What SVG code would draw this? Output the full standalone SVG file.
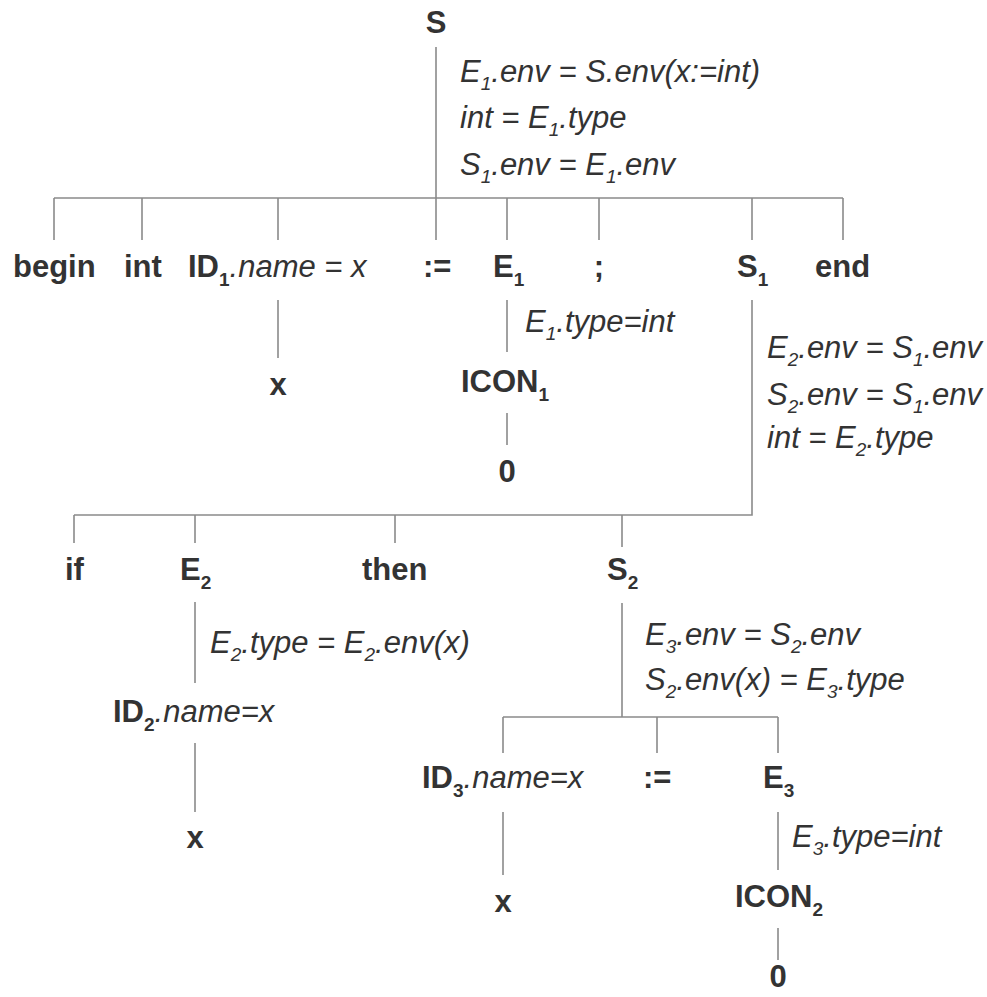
<svg xmlns="http://www.w3.org/2000/svg" width="987" height="997" viewBox="0 0 987 997">
<style>
.b{font-family:"Liberation Sans",Arial,sans-serif;font-weight:bold;font-size:31px;fill:#333}
.i{font-family:"Liberation Sans",Arial,sans-serif;font-style:italic;font-weight:normal;font-size:31px;fill:#333}
.s{font-size:19px}
.c{text-anchor:middle}
#connectors path{stroke:#8a8a8a;stroke-width:1.6;fill:none}
</style>
<rect width="987" height="997" fill="#fff"/>
<g id="connectors">
<path d="M436 47V198M54 198H843"/>
<path d="M54 198V240M142 198V240M278 198V240M436 198V240M507 198V240M599 198V240M752 198V240M843 198V240"/>
<path d="M278 300V358M507 300V352M507 413V445"/>
<path d="M752 300V515H74M74 515V543M195 515V543M395 515V543M622 515V547"/>
<path d="M195 602V683M195 743V812"/>
<path d="M622 603V717M503 717H778M503 717V753M657 717V753M778 717V753"/>
<path d="M503 812V875M778 812V870M778 928V960"/>
</g>
<g id="n-S"><text class="b c" x="436" y="33">S</text>
<text class="i" x="460" y="82">E<tspan class="s" dy="8">1</tspan><tspan dy="-8">.env = S.env(x:=int)</tspan></text>
<text class="i" x="460" y="128">int = E<tspan class="s" dy="8">1</tspan><tspan dy="-8">.type</tspan></text>
<text class="i" x="460" y="175">S<tspan class="s" dy="8">1</tspan><tspan dy="-8">.env = E</tspan><tspan class="s" dy="8">1</tspan><tspan dy="-8">.env</tspan></text>
</g>
<g id="n-begin"><text class="b" x="13" y="277">begin</text></g>
<g id="n-int"><text class="b" x="124" y="277">int</text></g>
<g id="n-ID1"><text class="b" x="188" y="277">ID<tspan class="s" dy="9">1</tspan><tspan class="i" dy="-9">.name = x</tspan></text></g>
<g id="n-assign1"><text class="b" x="423" y="277">:=</text></g>
<g id="n-E1"><text class="b" x="493" y="277">E<tspan class="s" dy="9">1</tspan></text>
<text class="i" x="525" y="332">E<tspan class="s" dy="8">1</tspan><tspan dy="-8">.type=int</tspan></text></g>
<g id="n-semi"><text class="b c" x="599" y="277">;</text></g>
<g id="n-S1"><text class="b" x="737" y="277">S<tspan class="s" dy="9">1</tspan></text>
<text class="i" x="767" y="358">E<tspan class="s" dy="8">2</tspan><tspan dy="-8">.env = S</tspan><tspan class="s" dy="8">1</tspan><tspan dy="-8">.env</tspan></text>
<text class="i" x="767" y="405">S<tspan class="s" dy="8">2</tspan><tspan dy="-8">.env = S</tspan><tspan class="s" dy="8">1</tspan><tspan dy="-8">.env</tspan></text>
<text class="i" x="767" y="448">int = E<tspan class="s" dy="8">2</tspan><tspan dy="-8">.type</tspan></text></g>
<g id="n-end"><text class="b" x="815" y="277">end</text></g>
<g id="n-x1"><text class="b c" x="278" y="395">x</text></g>
<g id="n-ICON1"><text class="b" x="461" y="392">ICON<tspan class="s" dy="9">1</tspan></text></g>
<g id="n-zero1"><text class="b c" x="507" y="482">0</text></g>
<g id="n-if"><text class="b" x="65" y="580">if</text></g>
<g id="n-E2"><text class="b" x="180" y="580">E<tspan class="s" dy="9">2</tspan></text>
<text class="i" x="210" y="653">E<tspan class="s" dy="8">2</tspan><tspan dy="-8">.type = E</tspan><tspan class="s" dy="8">2</tspan><tspan dy="-8">.env(x)</tspan></text></g>
<g id="n-then"><text class="b" x="362" y="580">then</text></g>
<g id="n-S2"><text class="b" x="607" y="580">S<tspan class="s" dy="9">2</tspan></text>
<text class="i" x="645" y="645">E<tspan class="s" dy="8">3</tspan><tspan dy="-8">.env = S</tspan><tspan class="s" dy="8">2</tspan><tspan dy="-8">.env</tspan></text>
<text class="i" x="645" y="690">S<tspan class="s" dy="8">2</tspan><tspan dy="-8">.env(x) = E</tspan><tspan class="s" dy="8">3</tspan><tspan dy="-8">.type</tspan></text></g>
<g id="n-ID2"><text class="b" x="113" y="722">ID<tspan class="s" dy="9">2</tspan><tspan class="i" dy="-9">.name=x</tspan></text></g>
<g id="n-x2"><text class="b c" x="195" y="848">x</text></g>
<g id="n-ID3"><text class="b" x="422" y="788">ID<tspan class="s" dy="9">3</tspan><tspan class="i" dy="-9">.name=x</tspan></text></g>
<g id="n-assign2"><text class="b" x="643" y="788">:=</text></g>
<g id="n-E3"><text class="b" x="763" y="788">E<tspan class="s" dy="9">3</tspan></text>
<text class="i" x="792" y="847">E<tspan class="s" dy="8">3</tspan><tspan dy="-8">.type=int</tspan></text></g>
<g id="n-x3"><text class="b c" x="503" y="912">x</text></g>
<g id="n-ICON2"><text class="b" x="735" y="907">ICON<tspan class="s" dy="9">2</tspan></text></g>
<g id="n-zero2"><text class="b c" x="778" y="987">0</text></g>
</svg>
